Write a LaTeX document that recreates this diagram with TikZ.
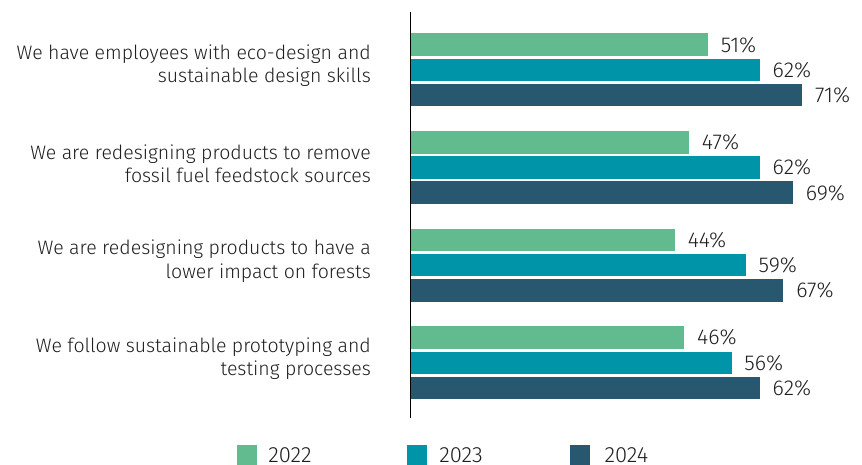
\documentclass[tikz,border=0pt]{standalone}
\usepackage{fontspec}
\setmainfont{Fira Sans Light}
\usetikzlibrary{positioning}

\definecolor{bar22}{HTML}{61BB8F}
\definecolor{bar23}{HTML}{0094A8}
\definecolor{bar24}{HTML}{285870}
\definecolor{txt}{HTML}{1E1E1E}

\begin{document}
\begin{tikzpicture}[x=1pt, y=-1pt,
  bar/.style={anchor=north west, inner sep=0pt, minimum height=22.5pt},
  pct/.style={inner sep=0pt, text=txt, font=\fontsize{21.5}{21.5}\selectfont},
  question/.style={inner sep=0pt, align=right, text=txt, font=\fontsize{19.5}{23.3}\selectfont},
  legbox/.style={anchor=north west, inner sep=0pt, minimum size=20pt},
  legtext/.style={inner sep=0pt, text=txt, font=\fontsize{22}{22}\selectfont}]
\useasboundingbox (0,0) rectangle (862,465);

% bars and values
\foreach \a/\b/\c [count=\i from 0] in {51/62/71, 47/62/69, 44/59/67, 46/56/62}{
  \foreach \v/\col [count=\k from 0] in {\a/bar22, \b/bar23, \c/bar24}{
    \pgfmathsetmacro\w{56.3+4.72*\v}
    \node[bar, fill=\col, minimum width=\w pt] (b\i\k) at (410.7, 33.3+97.6*\i+25.2*\k) {};
    \node[pct, right=12.5pt of b\i\k] (p\i\k) {\v\%};
  }
}

% questions
\node[question, left=39.7pt of b01, yshift=4pt] (q0) {We have employees with eco-design and\\sustainable design skills};
\node[question, left=39.7pt of b11, yshift=4pt] (q1) {We are redesigning products to remove\\fossil fuel feedstock sources};
\node[question, left=39.7pt of b21, yshift=4pt] (q2) {We are redesigning products to have a\\lower impact on forests};
\node[question, left=39.7pt of b31, yshift=4pt] (q3) {We follow sustainable prototyping and\\testing processes};

% axis
\coordinate (axtop) at (410.7, 11.7);
\coordinate (axbot) at (410.7, 418.3);
\draw[line width=1.2pt, black] (axtop) -- (axbot);

% legend
\node[legbox, fill=bar22] (l22) at (236.7, 445) {};
\node[legtext, right=11pt of l22, yshift=0.5pt] (t22) {2022};
\node[legbox, fill=bar23] (l23) at (406.7, 445) {};
\node[legtext, right=12pt of l23, yshift=0.5pt] (t23) {2023};
\node[legbox, fill=bar24] (l24) at (570, 445) {};
\node[legtext, right=14pt of l24, yshift=0.5pt] (t24) {2024};
\end{tikzpicture}
\end{document}
